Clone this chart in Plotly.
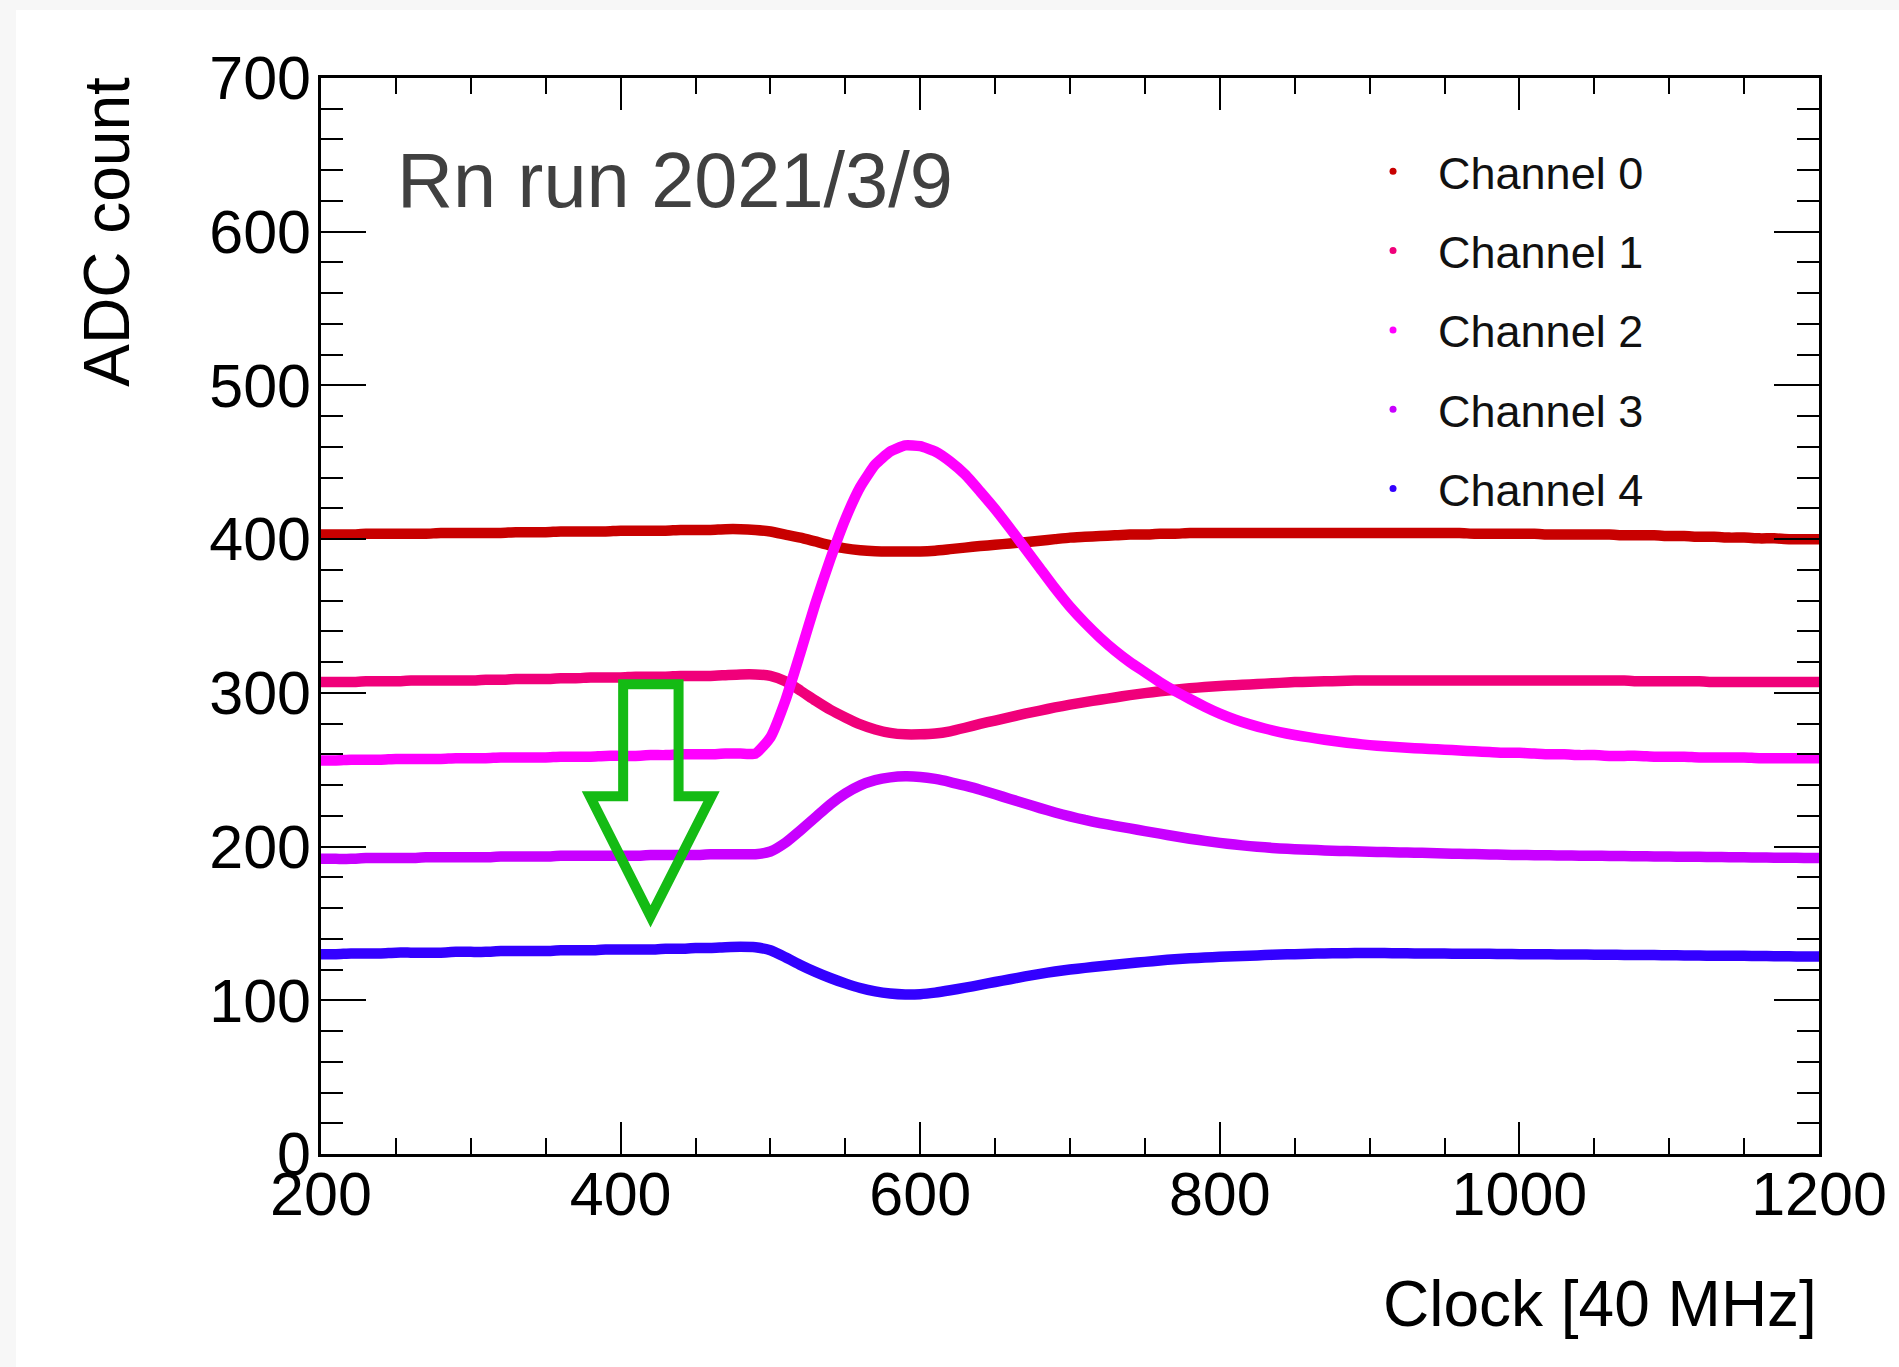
import plotly.graph_objects as go

# ---------------- data ----------------
clock = list(range(200, 1201, 10))

channel_names = ["Channel 0", "Channel 1", "Channel 2", "Channel 3", "Channel 4"]
channel_colors = ["#c80000", "#f0007a", "#ff00ff", "#c800ff", "#3300ff"]

ch0 = [403, 403, 403, 403.5, 403.5, 403.5, 403.5, 403.5, 404, 404,
       404, 404, 404, 404.5, 404.5, 404.5, 405, 405, 405, 405,
       405.5, 405.5, 405.5, 405.5, 406, 406, 406, 406.5, 406.5, 406,
       405, 403, 401, 398.5, 396, 394, 392.8, 392.2, 392, 392,
       392, 392.5, 393.5, 394.5, 395.5, 396.3, 397.2, 398, 399, 400,
       401, 401.5, 402, 402.5, 403, 403, 403.5, 403.5, 404, 404,
       404, 404, 404, 404, 404, 404, 404, 404, 404, 404,
       404, 404, 404, 404, 404, 404, 404, 403.5, 403.5, 403.5,
       403.5, 403.5, 403, 403, 403, 403, 403, 402.5, 402.5, 402.5,
       402, 402, 401.5, 401.5, 401, 401, 400.5, 400.5, 400, 400,
       400]
ch1 = [307, 307, 307, 307.5, 307.5, 307.5, 308, 308, 308, 308,
       308, 308.5, 308.5, 309, 309, 309, 309.5, 309.5, 310, 310,
       310, 310.5, 310.5, 310.5, 311, 311, 311, 311.5, 312, 312,
       311, 307.5, 301.5, 295, 289, 284, 279.5, 276.2, 274, 273,
       273, 273.5, 275, 277.3, 279.8, 282, 284.2, 286.5, 288.5, 290.5,
       292.3, 294, 295.5, 297, 298.5, 299.8, 301, 302, 303, 303.8,
       304.5, 305, 305.5, 306, 306.5, 307, 307.2, 307.5, 307.7, 308,
       308, 308, 308, 308, 308, 308, 308, 308, 308, 308,
       308, 308, 308, 308, 308, 308, 308, 308, 307.5, 307.5,
       307.5, 307.5, 307.5, 307, 307, 307, 307, 307, 307, 307,
       307]
ch2 = [256, 256, 256.5, 256.5, 256.5, 257, 257, 257, 257, 257.5,
       257.5, 257.5, 258, 258, 258, 258, 258.5, 258.5, 258.5, 259,
       259, 259, 259.5, 259.5, 260, 260, 260, 260.5, 260.5, 260.5,
       271, 295, 326, 358, 387, 413, 434, 448.5, 457, 461,
       460.5, 457, 450.5, 442, 431, 419.5, 407, 394, 381, 368,
       356, 345.5, 336, 327.5, 320, 313.5, 307, 301.2, 296, 291,
       286.5, 282.7, 279.5, 276.8, 274.5, 272.6, 271, 269.5, 268.2, 267,
       266, 265.2, 264.6, 264, 263.5, 263, 262.5, 262, 261.5, 261,
       261, 260.5, 260, 260, 259.5, 259.5, 259, 259, 259, 258.5,
       258.5, 258.5, 258, 258, 258, 258, 257.5, 257.5, 257.5, 257.5,
       257.5]
ch3 = [192, 192, 192, 192.5, 192.5, 192.5, 192.5, 193, 193, 193,
       193, 193, 193.5, 193.5, 193.5, 193.5, 194, 194, 194, 194,
       194, 194, 194.5, 194.5, 194.5, 194.5, 195, 195, 195, 195,
       196.8, 202.5, 210.5, 219, 227.5, 234.5, 239.8, 243.2, 245, 245.7,
       245.3, 244, 242, 239.6, 237, 234, 231, 228, 225, 222.2,
       219.6, 217.3, 215.3, 213.5, 211.8, 210.1, 208.4, 206.7, 205.1, 203.7,
       202.4, 201.3, 200.3, 199.5, 198.8, 198.3, 197.9, 197.5, 197.2, 196.9,
       196.6, 196.4, 196.2, 196, 195.8, 195.5, 195.3, 195.1, 194.9, 194.7,
       194.5, 194.4, 194.3, 194.2, 194.1, 194, 193.9, 193.8, 193.7, 193.6,
       193.5, 193.4, 193.3, 193.2, 193.1, 193, 192.9, 192.8, 192.7, 192.6,
       192.5]
ch4 = [130, 130, 130.5, 130.5, 130.5, 131, 131, 131, 131, 131.5,
       131.5, 131.5, 132, 132, 132, 132, 132.5, 132.5, 132.5, 133,
       133, 133, 133, 133.5, 133.5, 134, 134, 134.5, 134.8, 134.5,
       132.5, 128, 123, 118.5, 114.5, 111, 108, 105.8, 104.4, 103.8,
       104, 105, 106.5, 108.2, 110, 111.9, 113.7, 115.5, 117.2, 118.7,
       120, 121.1, 122.1, 123.1, 124.1, 125, 125.9, 126.7, 127.3, 127.8,
       128.3, 128.6, 129, 129.4, 129.8, 130, 130.3, 130.5, 130.6, 130.7,
       130.7, 130.7, 130.6, 130.5, 130.5, 130.4, 130.3, 130.3, 130.2, 130.1,
       130, 130, 129.9, 129.8, 129.8, 129.7, 129.6, 129.5, 129.5, 129.4,
       129.3, 129.2, 129.1, 129, 129, 128.9, 128.8, 128.7, 128.6, 128.5,
       128.5]
series = [ch0, ch1, ch2, ch3, ch4]

x_ticks = [200, 400, 600, 800, 1000, 1200]
y_ticks = [0, 100, 200, 300, 400, 500, 600, 700]

# green arrow outline (clock, ADC) vertices
arrow_x = [401.7, 438.7, 438.7, 460.7, 420.0, 379.5, 401.7]
arrow_y = [305.6, 305.6, 232.7, 232.7, 154.6, 232.7, 232.7]

FONT = "Liberation Sans, Arial, Helvetica, sans-serif"

fig = go.Figure()
for name, color, vals in zip(channel_names, channel_colors, series):
    fig.add_trace(go.Scatter(x=clock, y=vals, mode="lines", name=name,
                             line=dict(color=color, width=10.5, shape="spline", smoothing=0.5),
                             showlegend=False, hoverinfo="skip"))
for i, (name, color) in enumerate(zip(channel_names, channel_colors)):
    fig.add_trace(go.Scatter(x=[None], y=[None], mode="markers", name=name,
                             marker=dict(color=color, size=7),
                             legendgroup=f"g{i}", showlegend=True))

path = "M " + " L ".join(f"{a},{b}" for a, b in zip(arrow_x, arrow_y)) + " Z"
fig.add_shape(type="path", path=path, xref="x", yref="y",
              line=dict(color="#14bb14", width=10), fillcolor="rgba(0,0,0,0)", layer="above")

# white page area (gray strip on top/left like the reference)
fig.add_shape(type="rect", xref="paper", yref="paper", x0=-0.2036, x1=1.06, y0=-0.2, y1=1.0632,
              line=dict(width=0), fillcolor="white", layer="below")

axis_common = dict(showline=True, linewidth=2.5, linecolor="black", mirror="allticks",
                   ticks="inside", tickwidth=2, tickcolor="black", showgrid=False, zeroline=False,
                   tickfont=dict(family=FONT, size=61, color="black"))

fig.update_xaxes(range=[200, 1200], tickvals=x_ticks, ticklen=32, ticklabelstandoff=-15,
                 minor=dict(dtick=50, ticklen=16, tickwidth=2, tickcolor="black", ticks="inside", showgrid=False),
                 **axis_common)
fig.update_yaxes(range=[0, 700], tickvals=y_ticks, ticklen=45, ticklabelstandoff=-5,
                 minor=dict(dtick=20, ticklen=22, tickwidth=2, tickcolor="black", ticks="inside", showgrid=False),
                 **axis_common)

fig.add_annotation(text="Rn run 2021/3/9", xref="paper", yref="paper", x=0.0497, y=0.9053,
                   xanchor="left", yanchor="middle", showarrow=False,
                   font=dict(family=FONT, size=77.5, color="#404040"))
fig.add_annotation(text="Clock [40 MHz]", xref="paper", yref="paper", x=1.0, y=-0.1394,
                   xanchor="right", yanchor="middle", showarrow=False,
                   font=dict(family=FONT, size=64, color="black"))
fig.add_annotation(text="ADC count", xref="paper", yref="paper", x=-0.1429, y=1.003,
                   xanchor="center", yanchor="top", textangle=-90, showarrow=False,
                   font=dict(family=FONT, size=64, color="black"))

fig.update_layout(
    width=1899, height=1367,
    margin=dict(l=321, r=80, t=78, b=213),
    paper_bgcolor="#f7f7f7", plot_bgcolor="white",
    legend=dict(x=0.6856, y=0.9465, xanchor="left", yanchor="top",
                bgcolor="rgba(0,0,0,0)", borderwidth=0, itemwidth=80, tracegroupgap=17.8,
                font=dict(family=FONT, size=45, color="#111111")),
)

fig.write_html("out.html")
